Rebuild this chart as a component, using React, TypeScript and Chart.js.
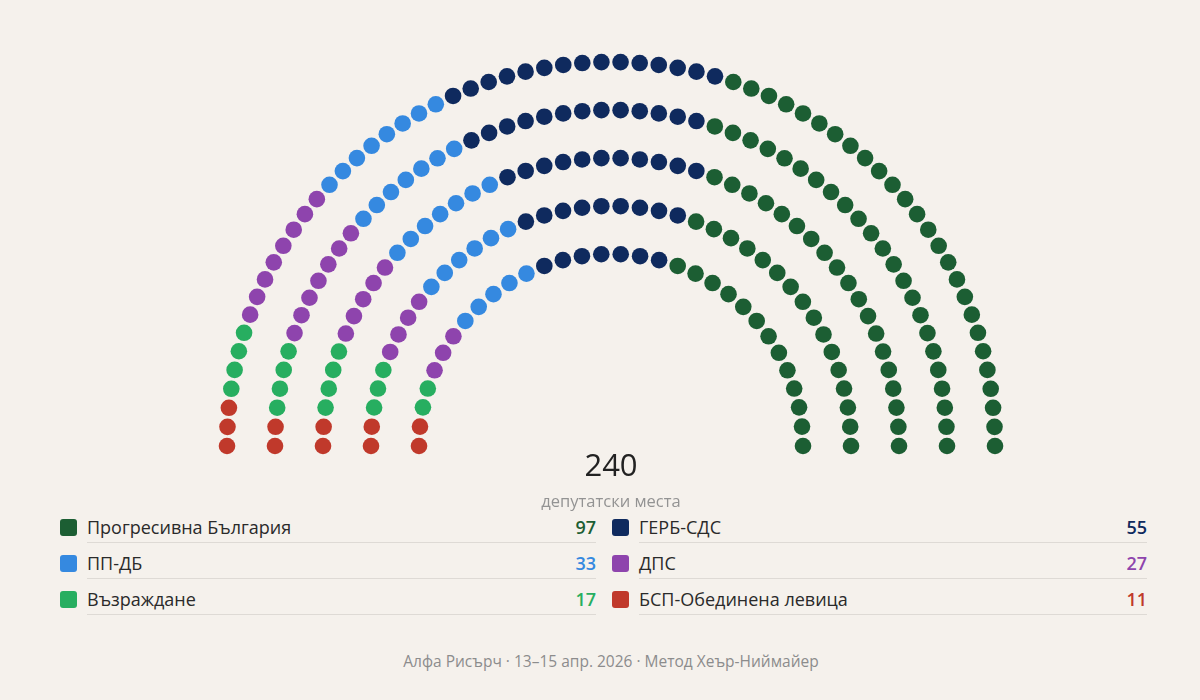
import React, { useEffect, useRef } from "react";
import { Chart, registerables } from "chart.js";

Chart.register(...registerables);

// ---- data ----
const parties = ["БСП-Обединена левица", "Възраждане", "ДПС", "ПП-ДБ", "ГЕРБ-СДС", "Прогресивна България"];
const seats = [11, 17, 27, 33, 55, 97];
const colors = ["#c0392b", "#27ae60", "#8e44ad", "#3589e0", "#0f2a5e", "#1c5e33"];
const legendOrder = [5, 4, 3, 2, 1, 0];
const totalLabel = "240";
const subtitle = "депутатски места";
const footer = "Алфа Рисърч · 13–15 апр. 2026 · Метод Хеър-Ниймайер";

const ROWS = 5;
const INNER = 0.5;
const FONT = "'Open Sans', 'Noto Sans', sans-serif";
const BG = "#f5f1ec";

function buildSeats() {
  const total = seats.reduce((a, b) => a + b, 0);
  const radii: number[] = [];
  for (let i = 0; i < ROWS; i++) radii.push(INNER + ((1 - INNER) * i) / (ROWS - 1));
  const rsum = radii.reduce((a, b) => a + b, 0);
  const counts = radii.map((r) => Math.round((total * r) / rsum));
  const diff = total - counts.reduce((a, b) => a + b, 0);
  counts[ROWS - 1] += diff;
  const all: { a: number; r: number }[] = [];
  radii.forEach((r, i) => {
    const n = counts[i];
    for (let j = 0; j < n; j++) all.push({ a: j / (n - 1), r });
  });
  all.sort((p, q) => p.a - q.a || q.r - p.r);
  const out: { x: number; y: number }[][] = seats.map(() => []);
  let k = 0;
  seats.forEach((s, pi) => {
    for (let m = 0; m < s; m++) {
      const p = all[k++];
      const t = Math.PI * p.a;
      out[pi].push({ x: -p.r * Math.cos(t), y: p.r * Math.sin(t) });
    }
  });
  return out;
}

function ParliamentChart() {
  const ref = useRef<HTMLCanvasElement | null>(null);
  useEffect(() => {
    if (!ref.current) return;
    const pts = buildSeats();
    const W = 1200, H = 470, cx = 611, cy = 446, R = 384;
    const chart = new Chart(ref.current, {
      type: "scatter",
      data: {
        datasets: parties.map((p, i) => ({
          label: p,
          data: pts[i],
          backgroundColor: colors[i],
          borderColor: colors[i],
          borderWidth: 0,
          pointRadius: 8.3,
          pointHoverRadius: 8.3,
          clip: false as any,
        })),
      },
      options: {
        animation: false,
        responsive: false,
        events: [],
        layout: { padding: 0, autoPadding: false },
        plugins: { legend: { display: false }, tooltip: { enabled: false } },
        scales: {
          x: { type: "linear", display: false, min: -cx / R, max: (W - cx) / R },
          y: { type: "linear", display: false, min: -(H - cy) / R, max: cy / R },
        },
      },
    });
    return () => chart.destroy();
  }, []);
  return <canvas ref={ref} width={1200} height={470} style={{ position: "absolute", left: 0, top: 0, width: 1200, height: 470 }} />;
}

function LegendItem({ idx, left, right, top }: { idx: number; left: number; right: number; top: number }) {
  const tl = left + 27;
  return (
    <>
      <div style={{ position: "absolute", left, top: top - 9, width: 17, height: 17, borderRadius: 3, background: colors[idx] }} />
      <div style={{ position: "absolute", left: tl, top: top - 13, fontSize: 18, lineHeight: "25px", color: "#2a2a2a", whiteSpace: "nowrap" }}>
        {parties[idx]}
      </div>
      <div style={{ position: "absolute", left: tl, width: right - tl, top: top - 13, fontSize: 18, lineHeight: "25px", color: colors[idx], textAlign: "right", fontWeight: 600 }}>
        {seats[idx]}
      </div>
      <div style={{ position: "absolute", left: tl, width: right - tl, top: top + 14, height: 1, background: "#dedad5" }} />
    </>
  );
}

export default function App() {
  const rowsY = [528, 564, 600];
  return (
    <div style={{ position: "fixed", left: 0, top: 0, width: 1200, height: 700, background: BG, fontFamily: FONT, overflow: "hidden" }}>
      <ParliamentChart />
      <div style={{ position: "absolute", left: 411, width: 400, top: 449, textAlign: "center", fontSize: 31, lineHeight: "31px", color: "#222", fontWeight: 500 }}>
        {totalLabel}
      </div>
      <div style={{ position: "absolute", left: 411, width: 400, top: 491, textAlign: "center", fontSize: 16.5, lineHeight: "20px", color: "#939393" }}>
        {subtitle}
      </div>
      {legendOrder.map((pi, n) => {
        const col = n % 2;
        const row = Math.floor(n / 2);
        const left = col === 0 ? 60 : 612;
        const right = col === 0 ? 596 : 1147;
        return <LegendItem key={pi} idx={pi} left={left} right={right} top={rowsY[row]} />;
      })}
      <div style={{ position: "absolute", left: 311, width: 600, top: 651, textAlign: "center", fontSize: 15.5, lineHeight: "21px", color: "#8c8c8c" }}>
        {footer}
      </div>
    </div>
  );
}
